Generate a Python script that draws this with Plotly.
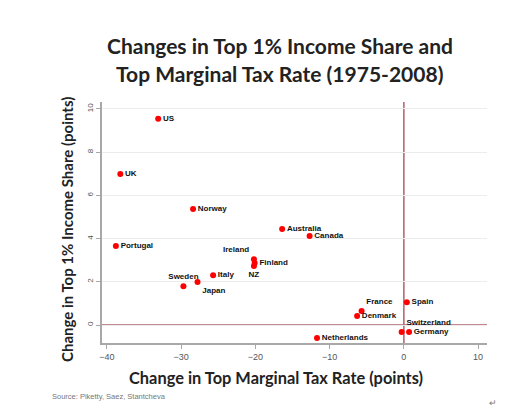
import plotly.graph_objects as go

countries = ["US", "UK", "Norway", "Portugal", "Australia", "Canada", "Ireland", "Finland",
             "NZ", "Italy", "Sweden", "Japan", "France", "Denmark", "Spain", "Switzerland",
             "Germany", "Netherlands"]
tax_change = [-33.1, -38.2, -28.4, -38.8, -16.4, -12.7, -20.2, -20.1,
              -20.2, -25.7, -29.7, -27.8, -5.7, -6.3, 0.4, -0.3,
              0.7, -11.7]
share_change = [9.54, 6.99, 5.37, 3.66, 4.44, 4.12, 3.05, 2.87,
                2.73, 2.31, 1.80, 1.99, 0.65, 0.42, 1.06, -0.32,
                -0.32, -0.60]
label_pos = ["middle right", "middle right", "middle right", "middle right", "middle right",
             "middle right", "top left", "middle right", "bottom center", "middle right",
             "top center", "bottom right", "top right", "middle right", "middle right",
             "top right", "middle right", "middle right"]

x_ticks = [-40, -30, -20, -10, 0, 10]
y_ticks = [0, 2, 4, 6, 8, 10]

fig = go.Figure()
fig.add_trace(go.Scatter(
    x=tax_change, y=share_change, mode="markers+text",
    text=countries, textposition=label_pos,
    textfont=dict(family="Liberation Sans", size=8, color="#111111", weight="bold"),
    marker=dict(color="#ff0000", size=6),
    cliponaxis=False, showlegend=False,
))

line_col = "#b0606c"
fig.add_shape(type="line", xref="x", yref="paper", x0=0, x1=0, y0=0, y1=1,
              line=dict(color=line_col, width=1.5), layer="below")
fig.add_shape(type="line", xref="paper", yref="y", x0=0, x1=1, y0=0, y1=0,
              line=dict(color=line_col, width=1.5), layer="below")

title_font = dict(family="Lato", size=21, color="#222222", weight="bold")

fig.update_layout(
    width=499, height=406,
    margin=dict(l=94, r=20, t=94, b=71),
    paper_bgcolor="white", plot_bgcolor="white",
    font=dict(family="Liberation Sans", color="#333333"),
    xaxis=dict(range=[-40.67, 11.2], tickvals=x_ticks, showgrid=False, zeroline=False,
               showline=True, linecolor="#a8a8a8", linewidth=1.5, automargin=False,
               ticks="outside", ticklen=4, tickcolor="#a8a8a8",
               tickfont=dict(size=9, color="#555555")),
    yaxis=dict(range=[-0.83, 10.32], tickvals=y_ticks, showgrid=True, gridcolor="#ececec",
               gridwidth=1, zeroline=False, automargin=False,
               showline=True, linecolor="#a8a8a8", linewidth=1.5,
               ticks="outside", ticklen=4, tickcolor="#a8a8a8", tickangle=-90,
               tickfont=dict(size=8, color="#555555")),
    annotations=[
        dict(text="Changes in Top 1% Income Share and", xref="paper", yref="paper",
             x=0.462, y=1.0, yanchor="middle", yshift=57, showarrow=False, font=title_font),
        dict(text="Top Marginal Tax Rate (1975-2008)", xref="paper", yref="paper",
             x=0.462, y=1.0, yanchor="middle", yshift=29, showarrow=False, font=title_font),
        dict(text="Change in Top Marginal Tax Rate (points)", xref="paper", yref="paper",
             x=0.452, y=0, yanchor="middle", yshift=-34, showarrow=False,
             font=dict(family="Lato", size=16.4, color="#222222", weight="bold")),
        dict(text="Change in Top 1% Income Share (points)", xref="paper", yref="paper",
             x=0, y=0.469, xanchor="center", yanchor="middle", xshift=-35, textangle=-90,
             showarrow=False,
             font=dict(family="Lato", size=15, color="#222222", weight="bold")),
        dict(text="Source: Piketty, Saez, Stantcheva", xref="paper", yref="paper",
             x=-0.135, y=0, yanchor="middle", yshift=-53, xanchor="left", showarrow=False,
             font=dict(family="Liberation Sans", size=7.5, color="#777777")),
        dict(text="↵", xref="paper", yref="paper", x=1.03, y=0, yanchor="middle",
             yshift=-60, showarrow=False, font=dict(size=9, color="#777777")),
    ],
)

fig.write_html("out.html")
